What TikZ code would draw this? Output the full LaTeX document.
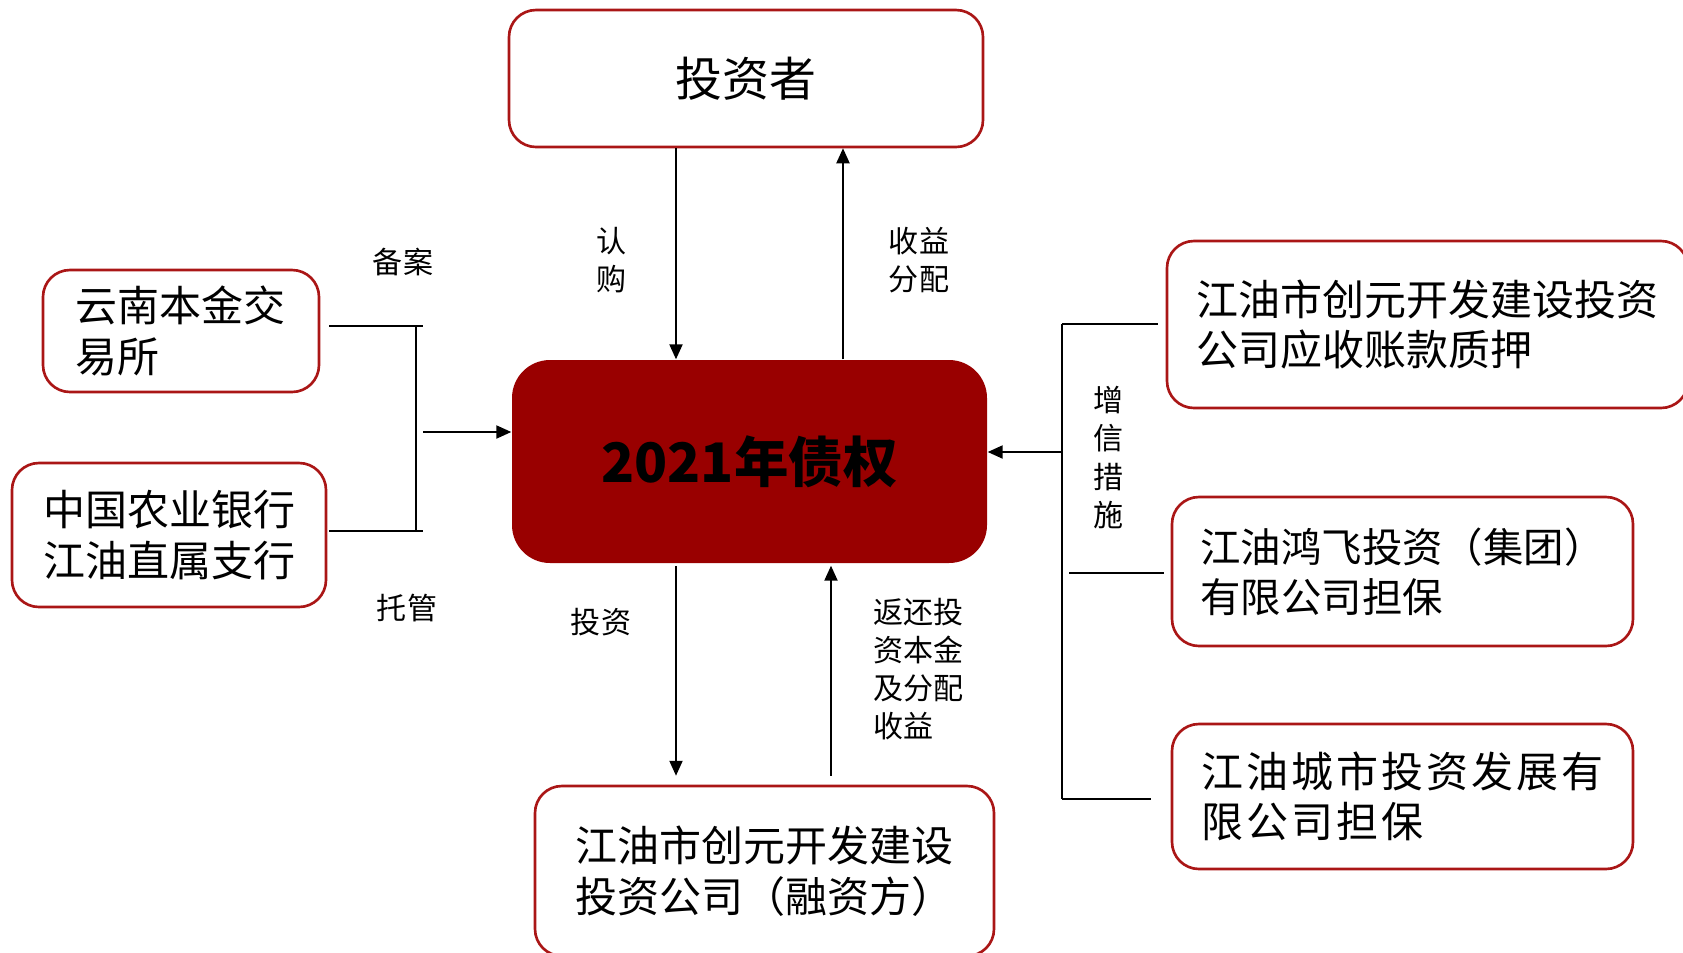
\documentclass[tikz,border=0pt]{standalone}
\usepackage{fontspec}
\setmainfont{Noto Sans CJK SC}
\usepackage{tikz}
\usetikzlibrary{arrows.meta,positioning,calc}
\definecolor{bondred}{RGB}{153,0,0}
\definecolor{edgered}{RGB}{170,22,22}
\tikzset{
  party/.style={draw=edgered, line width=1.5pt, rounded corners=5.4mm, align=left,
    inner sep=0pt, font=\fontsize{23.9pt}{29pt}\selectfont},
  tag/.style={inner sep=0pt, align=center, font=\fontsize{17.1pt}{21.6pt}\selectfont},
  brk/.style={-, line width=1.4pt},
}

\begin{document}
\begin{tikzpicture}[->,>={Triangle[length=8.5pt,width=7.5pt]}, x=0.2mm, y=-0.2mm,
   line width=0.85pt]
  \useasboundingbox (0,0) rectangle (1683,952);
  \node[party, minimum width=94.8mm, minimum height=27.4mm,
    font=\fontsize{26.7pt}{32pt}\selectfont] (inv) at (746,78.5) {投资者};
  \node[fill=bondred, rounded corners=7.6mm, minimum width=95mm, minimum height=40.6mm,
    font=\fontsize{31pt}{36pt}\selectfont\bfseries] (bond) at (749.5,461.5) {2021年债权};
  \node[party, minimum width=91.8mm, minimum height=34mm] (fin) at (764.5,871)
    {江油市创元开发建设\\投资公司（融资方）};
  \node[party, minimum width=55.2mm, minimum height=24.4mm] (yn) at (181,331)
    {云南本金交\\易所};
  \node[party, minimum width=62.8mm, minimum height=28.8mm] (abc) at (169,535)
    {中国农业银行\\江油直属支行};
  \node[party, minimum width=104.2mm, minimum height=33.4mm] (cya) at (1427.5,324.5)
    {江油市创元开发建设投资\\公司应收账款质押};
  \node[party, minimum width=92.2mm, minimum height=29.8mm,
    font=\fontsize{23pt}{28.5pt}\selectfont] (hf) at (1402.5,571.5)
    {江油鸿飞投资（集团）\\有限公司担保};
  \node[party, minimum width=92.2mm, minimum height=29mm,
    font=\fontsize{23.9pt}{28.5pt}\selectfont\addfontfeatures{LetterSpace=7}] (cs) at (1402.5,796.5)
    {江油城市投资发展有\\限公司担保};

  % labels
  \node[tag] (lbuy) at (612,260) {认\\购};
  \node[tag] (lpay) at (919,260) {收益\\分配};
  \node[tag] (linv) at (601,622) {投资};
  \node[tag, align=left, anchor=west] (lret) at (873,669.5) {返还投\\资本金\\及分配\\收益};
  \node[tag] (lfile) at (403,262) {备案};
  \node[tag] (lcust) at (407,608) {托管};
  \node[tag, font=\fontsize{17.1pt}{21.9pt}\selectfont] (lcred) at (1109,457.5) {增\\信\\措\\施};

  \coordinate (xbuy) at (676,0);
  \coordinate (xpay) at (843,0);
  \coordinate (xret) at (831,0);
  \draw (inv.south -| xbuy) -- (bond.north -| xbuy);
  \draw (bond.north -| xpay) -- (inv.south -| xpay);
  \draw[shorten <=0.4mm, shorten >=1.8mm] (bond.south -| xbuy) -- (fin.north -| xbuy);
  \draw[shorten <=1.8mm, shorten >=0.4mm] (fin.north -| xret) -- (bond.south -| xret);

  % left bracket
  \coordinate (jl) at (416,432);
  \coordinate (ynr) at (329,326);
  \coordinate (abcr) at (329,531);
  \draw[brk] (ynr) -- ++(94,0);
  \draw[brk] (abcr) -- ++(94,0);
  \draw[brk] (ynr -| jl) -- (abcr -| jl);
  \draw ([xshift=1.4mm]jl) -- (bond.west |- jl);

  % right bracket
  \coordinate (jr) at (1062,452);
  \coordinate (cyal) at (1062,324);
  \coordinate (hfl) at (1062,573);
  \coordinate (csl) at (1062,799);
  \draw[brk] (cyal) -- (csl);
  \draw[brk] (cyal) -- ++(96,0);
  \draw[brk] ([xshift=1.4mm]hfl) -- ++(95,0);
  \draw[brk] (csl) -- ++(89,0);
  \draw (jr) -- (bond.east |- jr);
\end{tikzpicture}
\end{document}
